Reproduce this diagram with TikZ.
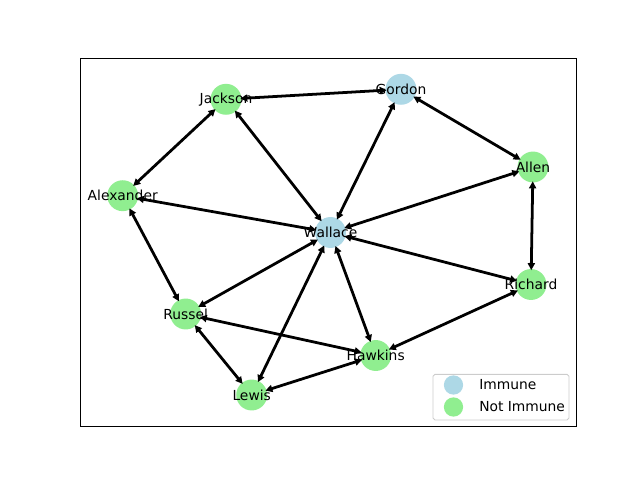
\documentclass[tikz,border=0pt]{standalone}
\usepackage{fontspec}
\setmainfont{DejaVu Sans}
\usetikzlibrary{arrows.meta}
\definecolor{immune}{RGB}{173,216,230}
\definecolor{notimmune}{RGB}{144,238,144}
\begin{document}
\begin{tikzpicture}[x=0.025cm,y=-0.025cm,
  dot/.style={circle,inner sep=0pt,minimum size=22pt},
  imm/.style={dot,fill=immune},
  nimm/.style={dot,fill=notimmune},
  lbl/.style={inner sep=0pt,font=\fontsize{9.84}{11}\selectfont},
  edge/.style={line width=1.97pt,{Triangle[length=5pt,width=5pt]}-{Triangle[length=5pt,width=5pt]},shorten <=-1pt,shorten >=-1pt}]
\useasboundingbox (0,0) rectangle (640,480);
\draw[line width=0.57pt] (80.3,58.3) rectangle (576,426.7);
% nodes
\node[imm]  (gordon)    at (401,89.3) {};
\node[nimm] (jackson)   at (226,99.3) {};
\node[nimm] (allen)     at (533,167) {};
\node[nimm] (alexander) at (122.7,195.7) {};
\node[imm]  (wallace)   at (330.5,232.5) {};
\node[nimm] (richard)   at (531,284.5) {};
\node[nimm] (russel)    at (185.7,314) {};
\node[nimm] (hawkins)   at (375.7,355.5) {};
\node[nimm] (lewis)     at (251.7,395) {};
% edges
\draw[edge] (jackson) -- (gordon);
\draw[edge] (gordon) -- (allen);
\draw[edge] (gordon) -- (wallace);
\draw[edge] (jackson) -- (alexander);
\draw[edge] (jackson) -- (wallace);
\draw[edge] (alexander) -- (wallace);
\draw[edge] (allen) -- (wallace);
\draw[edge] (allen) -- (richard);
\draw[edge] (wallace) -- (richard);
\draw[edge] (alexander) -- (russel);
\draw[edge] (wallace) -- (russel);
\draw[edge] (wallace) -- (lewis);
\draw[edge] (wallace) -- (hawkins);
\draw[edge] (russel) -- (hawkins);
\draw[edge] (russel) -- (lewis);
\draw[edge] (lewis) -- (hawkins);
\draw[edge] (richard) -- (hawkins);
% labels
\node[lbl] (tgordon)    at (gordon)    {Gordon};
\node[lbl] (tjackson)   at (jackson)   {Jackson};
\node[lbl] (tallen)     at (allen)     {Allen};
\node[lbl] (talexander) at (alexander) {Alexander};
\node[lbl] (twallace)   at (wallace)   {Wallace};
\node[lbl] (trichard)   at (richard)   {Richard};
\node[lbl] (trussel)    at (russel)    {Russel};
\node[lbl] (thawkins)   at (hawkins)   {Hawkins};
\node[lbl] (tlewis)     at (lewis)     {Lewis};
% legend
\draw[draw=black!20,fill=white,fill opacity=0.8,line width=0.7pt,rounded corners=1.4pt] (433,374.3) rectangle (569,420);
\node[circle,inner sep=0pt,minimum size=13.7pt,fill=immune] (limm) at (453.5,385) {};
\node[circle,inner sep=0pt,minimum size=13.7pt,fill=notimmune] (lnimm) at (453.5,407) {};
\node[lbl,anchor=west] (timm) at (479,385) {Immune};
\node[lbl,anchor=west] (tnimm) at (479,407) {Not Immune};
\end{tikzpicture}
\end{document}
